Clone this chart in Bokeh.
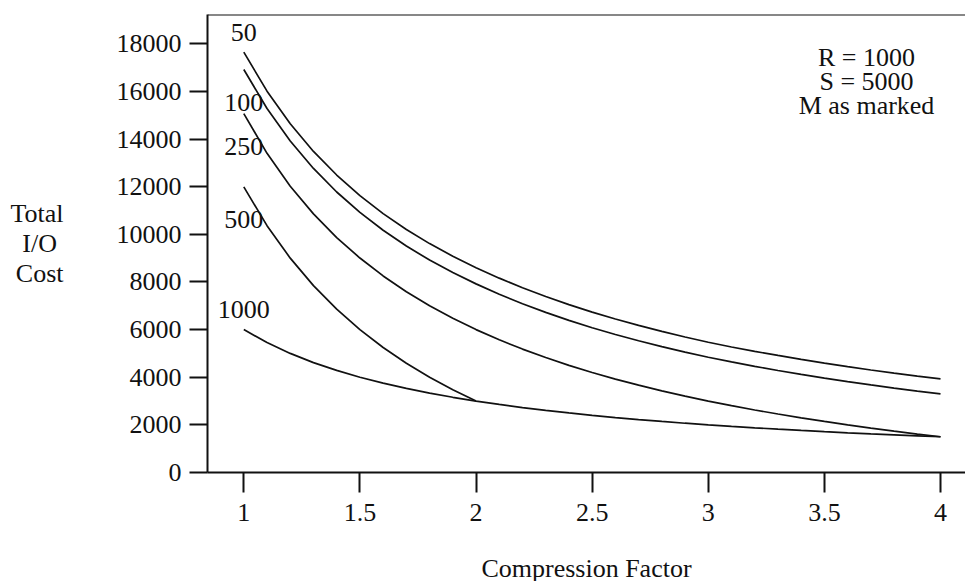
from bokeh.plotting import figure
from bokeh.models import Range1d, FixedTicker, Label, Span, NumeralTickFormatter
from bokeh.embed import file_html
from bokeh.resources import INLINE

# ---- data ----
compression = [1.0, 1.1, 1.2, 1.3, 1.4, 1.5, 1.6, 1.7, 1.8, 1.9, 2.0,
               2.1, 2.2, 2.3, 2.4, 2.5, 2.6, 2.7, 2.8, 2.9, 3.0,
               3.1, 3.2, 3.3, 3.4, 3.5, 3.6, 3.7, 3.8, 3.9, 4.0]
compression_m500 = [1.0, 1.1, 1.2, 1.3, 1.4, 1.5, 1.6, 1.7, 1.8, 1.9, 2.0]

cost_m50 = [17650, 16010, 14640, 13480, 12490, 11625, 10870, 10200, 9610, 9080, 8600,
            8160, 7760, 7390, 7050, 6735, 6445, 6175, 5925, 5690, 5470,
            5270, 5085, 4915, 4750, 4595, 4445, 4305, 4175, 4050, 3930]
cost_m100 = [16920, 15284, 13920, 12766, 11777, 10920, 10170, 9508, 8920, 8394, 7920,
             7483, 7086, 6722, 6388, 6080, 5795, 5531, 5285, 5055, 4840,
             4642, 4457, 4283, 4118, 3963, 3816, 3677, 3545, 3419, 3300]
cost_m250 = [15070, 13400, 12020, 10860, 9865, 9005, 8253, 7590, 7000, 6474, 6000,
             5571, 5182, 4826, 4500, 4200, 3923, 3667, 3429, 3207, 3000,
             2806, 2625, 2455, 2294, 2143, 2000, 1865, 1737, 1615, 1500]
cost_m500 = [11990, 10364, 9000, 7846, 6857, 6000, 5250, 4588, 4000, 3474, 3000]
cost_m1000 = [6000, 5455, 5000, 4615, 4286, 4000, 3750, 3529, 3333, 3158, 3000,
              2857, 2727, 2609, 2500, 2400, 2308, 2222, 2143, 2069, 2000,
              1935, 1875, 1818, 1765, 1714, 1667, 1622, 1579, 1538, 1500]

curve_labels = ["50", "100", "250", "500", "1000"]
x_ticks = [1, 1.5, 2, 2.5, 3, 3.5, 4]
y_ticks = [0, 2000, 4000, 6000, 8000, 10000, 12000, 14000, 16000, 18000]
note_lines = ["R = 1000", "S = 5000", "M as marked"]
y_title = "Total\nI/O\u00a0\nCost"
x_title = "Compression Factor"

FONT = "Liberation Serif"
FS = "26px"
INK = "#111111"

X0, X1 = 0.8437, 4.1076
Y0, Y1 = 0, 19230
W, H = 965, 590
LEFT, TOP, BOTTOM = 207, 14, 472

p = figure(width=W, height=H, output_backend="svg", toolbar_location=None,
           x_range=Range1d(X0, X1), y_range=Range1d(Y0, Y1),
           min_border_left=LEFT, min_border_right=0, min_border_top=TOP,
           min_border_bottom=H - BOTTOM)
p.outline_line_color = None
p.xgrid.visible = False
p.ygrid.visible = False
p.background_fill_color = "white"
p.border_fill_color = "white"

for ax in (p.xaxis[0], p.yaxis[0]):
    ax.axis_line_width = 2
    ax.axis_line_color = INK
    ax.major_tick_line_width = 2
    ax.major_tick_line_color = INK
    ax.major_tick_in = 0
    ax.minor_tick_line_color = None
    ax.major_label_text_font = FONT
    ax.major_label_text_font_size = FS
    ax.major_label_text_color = INK
    ax.axis_label_text_font = FONT
    ax.axis_label_text_font_size = FS
    ax.axis_label_text_font_style = "normal"
    ax.axis_label_text_color = INK

p.xaxis.ticker = FixedTicker(ticks=x_ticks)
p.xaxis.formatter = NumeralTickFormatter(format="0.[0]")
p.xaxis.major_tick_out = 20
p.xaxis.major_label_standoff = 11
p.xaxis.axis_label = x_title
p.xaxis.axis_label_standoff = 30

p.yaxis.ticker = FixedTicker(ticks=y_ticks)
p.yaxis.formatter = NumeralTickFormatter(format="0")
p.yaxis.major_tick_out = 18
p.yaxis.major_label_standoff = 8
p.yaxis.axis_label = y_title
p.yaxis.axis_label_orientation = "horizontal"
p.yaxis.axis_label_standoff = 50
p.yaxis.axis_label_text_align = "center"
p.yaxis.axis_label_text_line_height = 1.04

# top frame line
p.add_layout(Span(location=Y1, dimension="width", line_color=INK, line_width=2))

for ys, xs in [(cost_m50, compression), (cost_m100, compression),
               (cost_m250, compression), (cost_m500, compression_m500),
               (cost_m1000, compression)]:
    p.line(xs, ys, line_color=INK, line_width=1.7)


def px_to_x(px):
    return X0 + (px - LEFT) / (W - LEFT) * (X1 - X0)


def py_to_y(py):
    return (BOTTOM - py) / (BOTTOM - TOP) * (Y1 - Y0)


def add_text(txt, x, y, align="center"):
    p.add_layout(Label(x=x, y=y, text=txt, text_font=FONT, text_font_size=FS,
                       text_color=INK, text_align=align, text_baseline="middle"))


# curve labels next to curve starts
for txt, py in zip(curve_labels, [32, 102, 146, 219, 309]):
    add_text(txt, 1.0, py_to_y(py))

# parameter note
for txt, py in zip(note_lines, [57, 81, 105]):
    add_text(txt, px_to_x(866), py_to_y(py))

open("out.html", "w").write(file_html(p, INLINE))
